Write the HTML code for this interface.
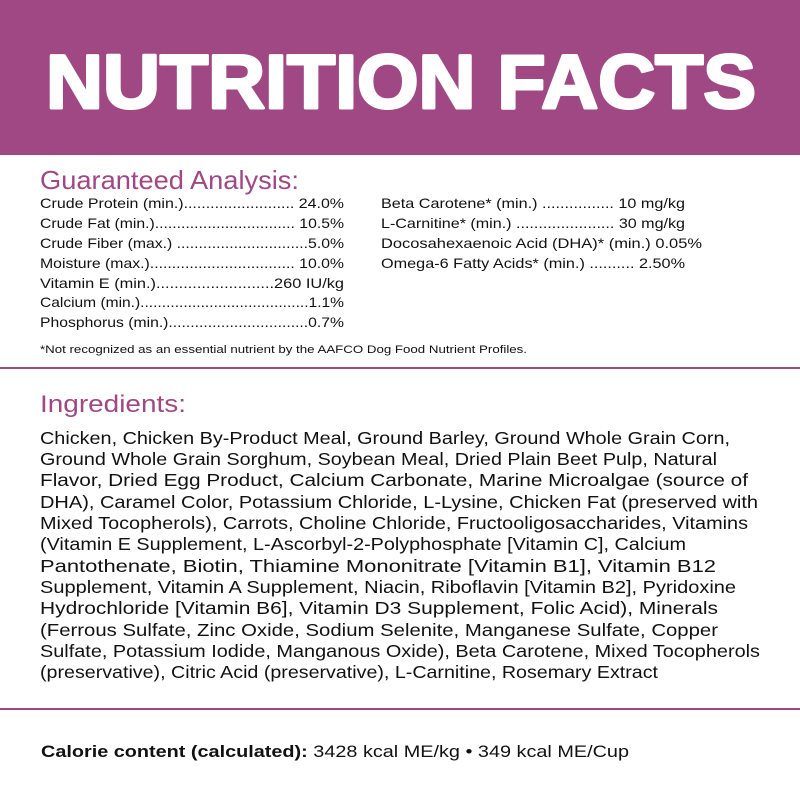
<!DOCTYPE html>
<html><head><meta charset="utf-8"><style>
html,body{margin:0;padding:0;background:#fff}
svg{display:block}
text{font-family:"Liberation Sans",sans-serif}
.r{font-size:14px;fill:#111}
.b{font-size:17.5px;fill:#111}
</style></head><body>
<svg width="800" height="800" viewBox="0 0 800 800">
<rect x="0" y="0" width="800" height="155" fill="#a04884"/>
<text x="46" y="108" font-size="76" font-weight="bold" fill="#fff" stroke="#fff" stroke-width="3" stroke-linejoin="round" textLength="710" lengthAdjust="spacingAndGlyphs">NUTRITION FACTS</text>
<text x="40" y="189" font-size="26" fill="#a04884" textLength="259" lengthAdjust="spacingAndGlyphs">Guaranteed Analysis:</text>
<g class="r">
<text x="40" y="208" textLength="304" lengthAdjust="spacingAndGlyphs">Crude Protein (min.)......................... 24.0%</text>
<text x="40" y="228" textLength="304" lengthAdjust="spacingAndGlyphs">Crude Fat (min.)................................ 10.5%</text>
<text x="40" y="248" textLength="304" lengthAdjust="spacingAndGlyphs">Crude Fiber (max.) ..............................5.0%</text>
<text x="40" y="268" textLength="304" lengthAdjust="spacingAndGlyphs">Moisture (max.)................................. 10.0%</text>
<text x="40" y="288" textLength="304" lengthAdjust="spacingAndGlyphs">Vitamin E (min.)..........................260 IU/kg</text>
<text x="40" y="307" textLength="304" lengthAdjust="spacingAndGlyphs">Calcium (min.).......................................1.1%</text>
<text x="40" y="327" textLength="304" lengthAdjust="spacingAndGlyphs">Phosphorus (min.)................................0.7%</text>
<text x="381" y="208" textLength="304" lengthAdjust="spacingAndGlyphs">Beta Carotene* (min.) ................ 10 mg/kg</text>
<text x="381" y="228" textLength="304" lengthAdjust="spacingAndGlyphs">L-Carnitine* (min.) ...................... 30 mg/kg</text>
<text x="381" y="248" textLength="321" lengthAdjust="spacingAndGlyphs">Docosahexaenoic Acid (DHA)* (min.) 0.05%</text>
<text x="381" y="268" textLength="304" lengthAdjust="spacingAndGlyphs">Omega-6 Fatty Acids* (min.) .......... 2.50%</text>
<text x="40" y="353" font-size="11" textLength="487" lengthAdjust="spacingAndGlyphs">*Not recognized as an essential nutrient by the AAFCO Dog Food Nutrient Profiles.</text>
</g>
<rect x="0" y="367" width="800" height="2" fill="#a04884"/>
<text x="40" y="412" font-size="24" fill="#a04884" textLength="146" lengthAdjust="spacingAndGlyphs">Ingredients:</text>
<g class="b">
<text x="40" y="444" textLength="690" lengthAdjust="spacingAndGlyphs">Chicken, Chicken By-Product Meal, Ground Barley, Ground Whole Grain Corn,</text>
<text x="40" y="465" textLength="677" lengthAdjust="spacingAndGlyphs">Ground Whole Grain Sorghum, Soybean Meal, Dried Plain Beet Pulp, Natural</text>
<text x="40" y="486" textLength="708" lengthAdjust="spacingAndGlyphs">Flavor, Dried Egg Product, Calcium Carbonate, Marine Microalgae (source of</text>
<text x="40" y="508" textLength="718" lengthAdjust="spacingAndGlyphs">DHA), Caramel Color, Potassium Chloride, L-Lysine, Chicken Fat (preserved with</text>
<text x="40" y="529" textLength="708" lengthAdjust="spacingAndGlyphs">Mixed Tocopherols), Carrots, Choline Chloride, Fructooligosaccharides, Vitamins</text>
<text x="40" y="550" textLength="646" lengthAdjust="spacingAndGlyphs">(Vitamin E Supplement, L-Ascorbyl-2-Polyphosphate [Vitamin C], Calcium</text>
<text x="40" y="572" textLength="676" lengthAdjust="spacingAndGlyphs">Pantothenate, Biotin, Thiamine Mononitrate [Vitamin B1], Vitamin B12</text>
<text x="40" y="593" textLength="696" lengthAdjust="spacingAndGlyphs">Supplement, Vitamin A Supplement, Niacin, Riboflavin [Vitamin B2], Pyridoxine</text>
<text x="40" y="614" textLength="678" lengthAdjust="spacingAndGlyphs">Hydrochloride [Vitamin B6], Vitamin D3 Supplement, Folic Acid), Minerals</text>
<text x="40" y="636" textLength="678" lengthAdjust="spacingAndGlyphs">(Ferrous Sulfate, Zinc Oxide, Sodium Selenite, Manganese Sulfate, Copper</text>
<text x="40" y="657" textLength="720" lengthAdjust="spacingAndGlyphs">Sulfate, Potassium Iodide, Manganous Oxide), Beta Carotene, Mixed Tocopherols</text>
<text x="40" y="678" textLength="618" lengthAdjust="spacingAndGlyphs">(preservative), Citric Acid (preservative), L-Carnitine, Rosemary Extract</text>
</g>
<rect x="0" y="708" width="800" height="2" fill="#a04884"/>
<text x="41" y="757" font-size="17" fill="#111" textLength="588" lengthAdjust="spacingAndGlyphs"><tspan font-weight="bold">Calorie content (calculated):</tspan> 3428 kcal ME/kg • 349 kcal ME/Cup</text>
</svg>
</body></html>
